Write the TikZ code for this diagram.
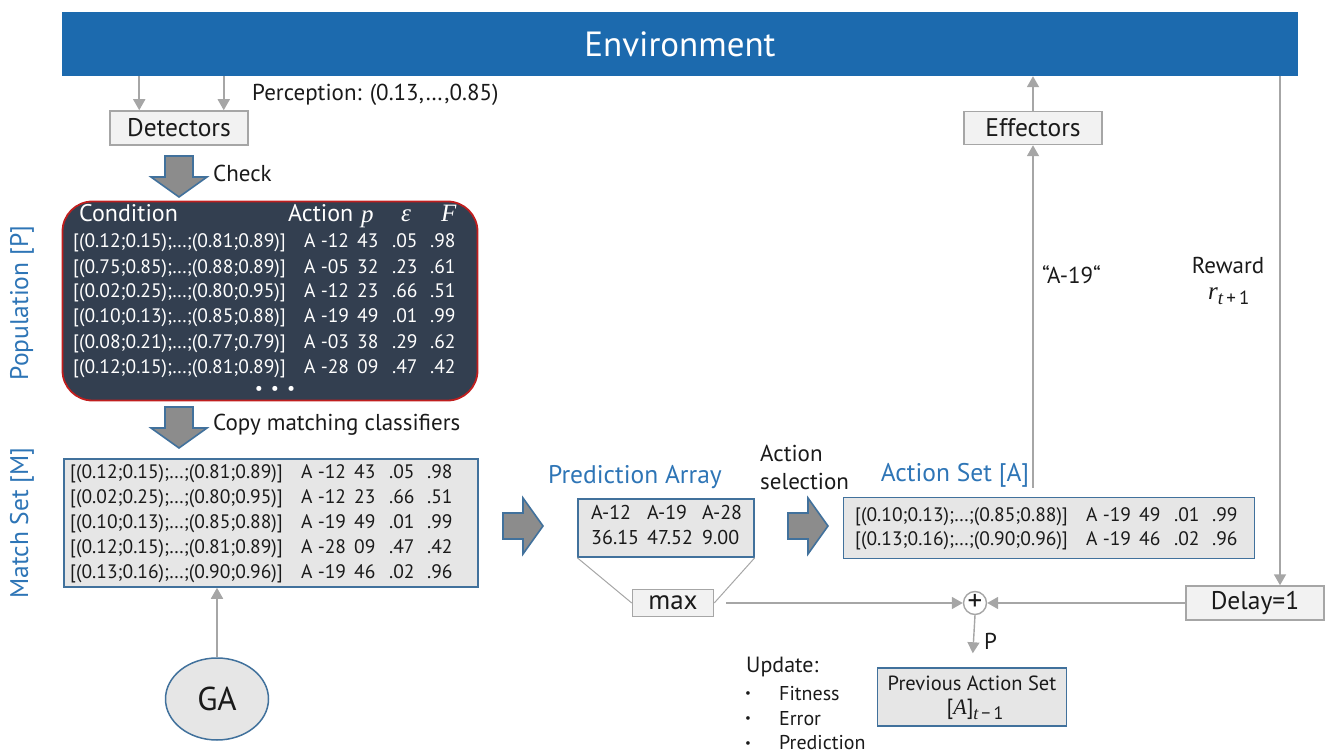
\documentclass[tikz,border=0pt]{standalone}
\usepackage{fontspec}
\setmainfont{PT Sans}
\newfontfamily\serifit{Liberation Serif}[Style=Italic,UprightFont=*,ItalicFont=* Italic]
\usetikzlibrary{arrows.meta,shapes.geometric,calc}
\definecolor{envblue}{RGB}{28,106,174}
\definecolor{lblue}{RGB}{46,117,182}
\definecolor{agray}{RGB}{166,166,166}
\definecolor{blkfill}{RGB}{140,140,140}
\definecolor{blkedge}{RGB}{65,113,156}
\definecolor{popfill}{RGB}{51,63,80}
\definecolor{popedge}{RGB}{192,30,30}
\definecolor{lightbox}{RGB}{230,230,230}
\definecolor{paleb}{RGB}{242,242,242}
\definecolor{txt}{RGB}{26,26,26}
\newcommand{\sit}[1]{{\serifit\itshape #1}}
\newcommand{\crow}[5]{\makebox[231pt][l]{#1}\makebox[53pt][l]{#2}\makebox[35pt][l]{#3}\makebox[38pt][l]{#4}#5}
\newcommand{\blkdown}[2]{\draw[blk] ({#1-14},#2) -- ({#1+14},#2) -- ({#1+14},{#2+21}) -- ({#1+28},{#2+21}) -- (#1,{#2+41}) -- ({#1-28},{#2+21}) -- ({#1-14},{#2+21}) -- cycle;}
\newcommand{\blkright}[2]{\draw[blk] (#1,{#2-13}) -- ({#1+20},{#2-13}) -- ({#1+20},{#2-28}) -- ({#1+40},#2) -- ({#1+20},{#2+28}) -- ({#1+20},{#2+13}) -- (#1,{#2+13}) -- cycle;}
\begin{document}
\begin{tikzpicture}[x=1pt,y=-1pt,
  garrow/.style={draw=agray,line width=1.8pt,-{Triangle[width=12pt,length=11pt]}},
  thinline/.style={draw=agray,line width=1pt},
  blk/.style={fill=blkfill,draw=blkedge,line width=1.6pt,line join=miter},
  palebox/.style={draw=agray,fill=paleb,line width=1.5pt,inner sep=0pt,font=\fontsize{25.5}{28}\selectfont,text=txt},
  graybox/.style={draw=blkedge,fill=lightbox,line width=1.5pt,inner sep=0pt},
  rowtxt/.style={anchor=west,inner sep=0pt,text height=14pt,text depth=4pt,font=\fontsize{19.5}{25}\selectfont},
  lab/.style={inner sep=0pt,font=\fontsize{23}{28}\selectfont,text=txt},
  blab/.style={inner sep=0pt,font=\fontsize{25.5}{30}\selectfont,text=lblue}]
\useasboundingbox (0,0) rectangle (1326,754);

% Environment
\node[fill=envblue,draw=none,minimum width=1236pt,minimum height=64pt,inner sep=0pt,text=white,font=\fontsize{35}{40}\selectfont] (env) at (680,44) {Environment};

% Detectors
\node[palebox,minimum width=138pt,minimum height=34pt] (det) at (179,128) {Detectors};
\path (det.north west) ++(30,0) coordinate (d1);
\path (det.north east) ++(-25,0) coordinate (d2);
\draw[garrow] (env.south -| d1) -- (d1);
\draw[garrow] (env.south -| d2) -- (d2);
\node[lab,anchor=west] (perc) at (252,95) {Perception: (0.13,…,0.85)};

% Check arrow
\blkdown{179}{156}
\node[lab,anchor=west] (chk) at (213,173) {Check};

% Population
\node[draw=popedge,fill=popfill,line width=1.8pt,rounded corners=30pt,minimum width=415pt,minimum height=199pt] (pop) at (270,301) {};
\node[blab,rotate=90] (poplab) at (22,303) {Population [P]};
\begin{scope}[every node/.style={text=white}]
\node[rowtxt,font=\fontsize{24}{25}\selectfont] (h1) at (79,217) {Condition};
\node[rowtxt,font=\fontsize{24}{25}\selectfont] (h2) at (288,217) {Action};
\node[rowtxt,font=\fontsize{25}{25}\selectfont] (h3) at (361,218) {\sit{p}};
\node[rowtxt,font=\fontsize{25}{25}\selectfont] (h4) at (401,217) {\sit{ε}};
\node[rowtxt,font=\fontsize{25}{25}\selectfont] (h5) at (441,217) {\sit{F}};
\node[rowtxt] (p1) at (73,243) {\crow{[(0.12;0.15);…;(0.81;0.89)]}{A -12}{43}{.05}{.98}};
\node[rowtxt] (p2) at (73,268) {\crow{[(0.75;0.85);…;(0.88;0.89)]}{A -05}{32}{.23}{.61}};
\node[rowtxt] (p3) at (73,293) {\crow{[(0.02;0.25);…;(0.80;0.95)]}{A -12}{23}{.66}{.51}};
\node[rowtxt] (p4) at (73,318) {\crow{[(0.10;0.13);…;(0.85;0.88)]}{A -19}{49}{.01}{.99}};
\node[rowtxt] (p5) at (73,343) {\crow{[(0.08;0.21);…;(0.77;0.79)]}{A -03}{38}{.29}{.62}};
\node[rowtxt] (p6) at (73,368) {\crow{[(0.12;0.15);…;(0.81;0.89)]}{A -28}{09}{.47}{.42}};
\node[inner sep=0pt,font=\fontsize{18}{20}\selectfont] (dots) at (275,390) {•\hspace{8pt}•\hspace{8pt}•};
\end{scope}

% Copy arrow
\blkdown{179}{407}
\node[lab,anchor=west] (copy) at (213,425) {Copy matching classifiers};

% Match set
\node[graybox,minimum width=414pt,minimum height=128pt] (ms) at (271,523) {};
\node[blab,rotate=90] (mslab) at (22,523) {Match Set [M]};
\begin{scope}[every node/.style={text=txt}]
\node[rowtxt] (m1) at (70,473) {\crow{[(0.12;0.15);…;(0.81;0.89)]}{A -12}{43}{.05}{.98}};
\node[rowtxt] (m2) at (70,498) {\crow{[(0.02;0.25);…;(0.80;0.95)]}{A -12}{23}{.66}{.51}};
\node[rowtxt] (m3) at (70,523) {\crow{[(0.10;0.13);…;(0.85;0.88)]}{A -19}{49}{.01}{.99}};
\node[rowtxt] (m4) at (70,548) {\crow{[(0.12;0.15);…;(0.81;0.89)]}{A -28}{09}{.47}{.42}};
\node[rowtxt] (m5) at (70,573) {\crow{[(0.13;0.16);…;(0.90;0.96)]}{A -19}{46}{.02}{.96}};
\end{scope}

% GA
\node[ellipse,graybox,minimum width=103pt,minimum height=82pt,font=\fontsize{33}{36}\selectfont,text=txt] (ga) at (217,699) {GA};
\draw[garrow] (ga.north) -- (ms.south -| ga.north);

% Block arrow to prediction array
\blkright{503}{526}

% Prediction array
\node[blab] (palab) at (635,477) {Prediction Array};
\node[graybox,minimum width=176pt,minimum height=58pt] (pa) at (666,528) {};
\node[rowtxt,text=txt,font=\fontsize{20}{25}\selectfont] (pa1) at (591,514) {\makebox[56pt][l]{A-12}\makebox[55pt][l]{A-19}A-28};
\node[rowtxt,text=txt,font=\fontsize{20}{25}\selectfont] (pa2) at (591,539) {\makebox[56pt][l]{36.15}\makebox[55pt][l]{47.52}9.00};
\node[palebox,minimum width=81pt,minimum height=27pt,font=\fontsize{27}{28}\selectfont] (mx) at (673,603) {max};
\draw[thinline] (pa.south west) -- (mx.west);
\draw[thinline] (pa.south east) -- (mx.east);

% Action selection
\node[lab,anchor=west,align=left,font=\fontsize{23}{28}\selectfont] (asel) at (760,467) {Action\\selection};
\blkright{788}{526}

% Action set
\node[blab] (aslab) at (955,475) {Action Set [A]};
\node[graybox,minimum width=411pt,minimum height=61pt] (as) at (1049,528) {};
\node[rowtxt,text=txt] (a1) at (855,516) {\crow{[(0.10;0.13);…;(0.85;0.88)]}{A -19}{49}{.01}{.99}};
\node[rowtxt,text=txt] (a2) at (855,540) {\crow{[(0.13;0.16);…;(0.90;0.96)]}{A -19}{46}{.02}{.96}};

% Effectors
\node[palebox,minimum width=138pt,minimum height=33pt] (eff) at (1033,128) {Effectors};
\draw[garrow] (eff.north) -- (env.south -| eff.north);
\draw[garrow,shorten <=9pt] (as.north -| eff.south) -- (eff.south);
\node[lab,anchor=west] (a19) at (1042,275) {“A-19“};

% Reward and delay
\node[palebox,minimum width=138pt,minimum height=34pt] (dly) at (1255,603) {Delay=1};
\path (dly.north) ++(25,0) coordinate (rw);
\draw[garrow] (env.south -| rw) -- (rw);
\node[lab] (rew) at (1228,265) {Reward};
\node[lab,font=\fontsize{25}{28}\selectfont,anchor=west] (rt) at (1208,296) {\sit{r}\raisebox{-5pt}{\fontsize{19}{20}\selectfont\sit{t}\,+\,1}};

% Plus
\node[circle,draw=agray,line width=1.4pt,fill=white,minimum size=23pt,inner sep=0pt,text=txt] (plus) at (975,603) {\raisebox{1pt}{\fontsize{29}{29}\selectfont+}};
\draw[garrow,shorten <=12pt] (mx.east) -- (plus.west);
\draw[garrow] (dly.west) -- (plus.east);

% Previous action set
\node[graybox,minimum width=189pt,minimum height=58pt] (prev) at (972,697) {};
\node[inner sep=0pt,font=\fontsize{20.5}{22}\selectfont,text=txt] (prev1) at (972,683) {Previous Action Set};
\node[inner sep=0pt,font=\fontsize{22}{22}\selectfont,text=txt] (prev2) at (975,709) {[\sit{A}]\raisebox{-5pt}{\fontsize{18}{18}\selectfont\sit{t}\,−\,1}};
\draw[garrow,line width=1.4pt,shorten >=14pt] (plus.south) -- (prev.north);
\node[lab,anchor=west] (plab) at (984,641) {P};

% Update list
\node[lab,anchor=west,font=\fontsize{22}{24}\selectfont] (upd) at (746,667) {Update:};
\node[lab,anchor=west,font=\fontsize{13}{14}\selectfont] (b1) at (745,695) {•};
\node[lab,anchor=west,font=\fontsize{13}{14}\selectfont] (b2) at (745,720) {•};
\node[lab,anchor=west,font=\fontsize{13}{14}\selectfont] (b3) at (745,745) {•};
\node[lab,anchor=west,font=\fontsize{20}{22}\selectfont] (u1) at (779,694) {Fitness};
\node[lab,anchor=west,font=\fontsize{20}{22}\selectfont] (u2) at (779,719) {Error};
\node[lab,anchor=west,font=\fontsize{20}{22}\selectfont] (u3) at (779,743) {Prediction};
\end{tikzpicture}
\end{document}
